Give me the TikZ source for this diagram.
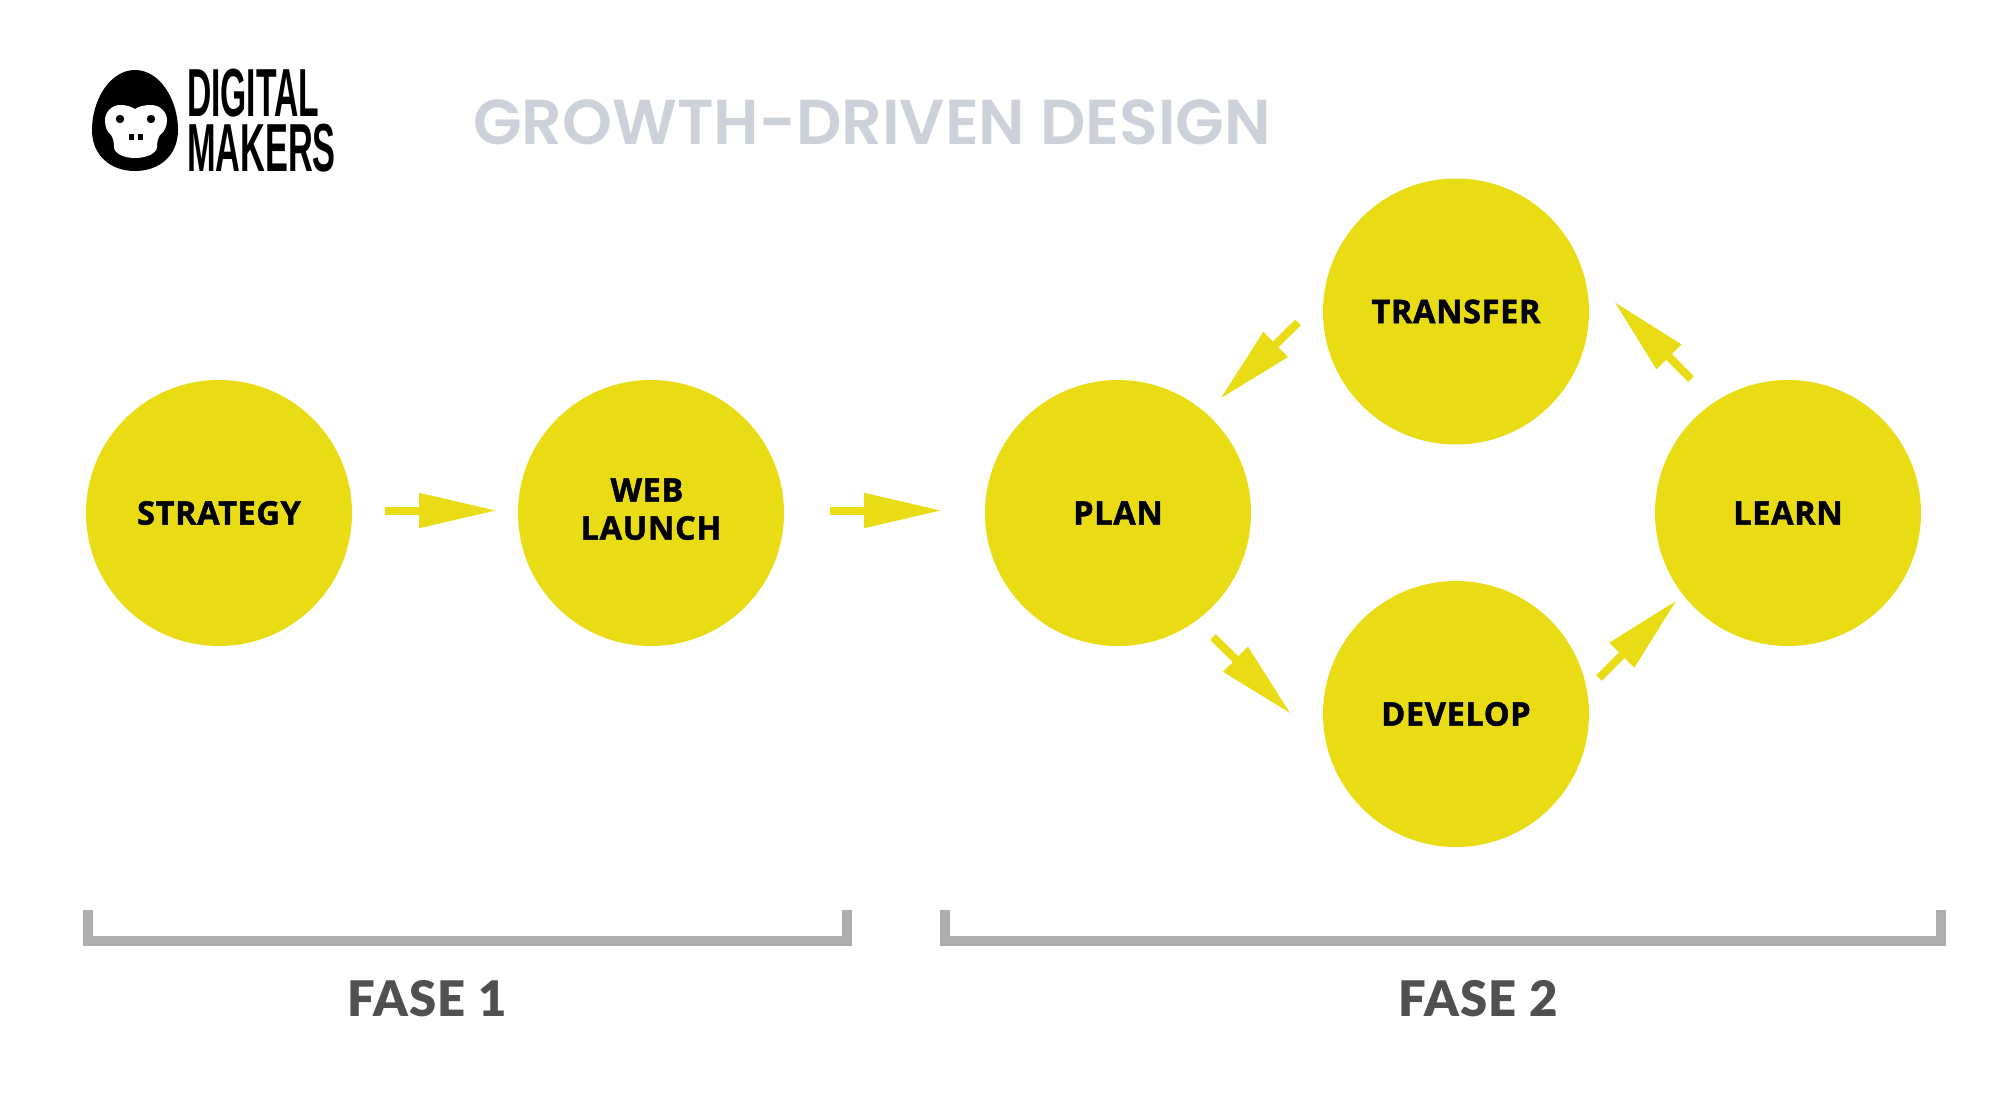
\documentclass[tikz,border=0pt]{standalone}
\usepackage{fontspec}
\setmainfont{Open Sans}
\newfontfamily\labelfont[LetterSpace=2,BoldFeatures={FakeBold=1.5}]{Open Sans}
\newfontfamily\titlefont{Poppins SemiBold}
\newfontfamily\fasefont[LetterSpace=2.5]{Lato Black}
\newfontfamily\logofont{Liberation Sans}
\usetikzlibrary{arrows.meta}
\definecolor{dmyellow}{HTML}{EADC14}
\definecolor{dmgrey}{HTML}{AEAEAE}
\definecolor{dmtitle}{HTML}{CDD2DA}
\definecolor{dmfase}{HTML}{505050}
\tikzset{
  phase/.style={circle,fill=dmyellow,minimum size=266pt,inner sep=0pt,align=center,text=black,
    font=\fontsize{32.5}{38}\selectfont\labelfont\bfseries},
  flow/.style={draw=dmyellow,fill=dmyellow,line width=8pt,-{Triangle[length=78pt,width=33pt]}},
  bracketline/.style={draw=dmgrey,line width=10pt,miter limit=10},
  faselabel/.style={anchor=base,text=dmfase,inner sep=0pt,font=\fontsize{49}{49}\selectfont\fasefont},
  logotext/.style={anchor=base west,inner sep=0pt,text=black,font=\fontsize{68}{68}\selectfont\logofont\bfseries},
}
\begin{document}
\begin{tikzpicture}[x=1pt,y=-1pt]
\useasboundingbox (0,0) rectangle (2000,1116);
\fill[white] (0,0) rectangle (2000,1116);
% logo
\fill[black] (135,70) .. controls (160,70) and (178,100) .. (178,130) .. controls (178,155) and (160,171) .. (135,171) .. controls (110,171) and (92,155) .. (92,130) .. controls (92,100) and (110,70) .. (135,70) -- cycle;
\fill[white] (135,109) .. controls (140,106) and (145,105) .. (151,105) .. controls (160,105) and (167,112) .. (167,120) .. controls (167,127) and (164,132) .. (160,135) .. controls (158,138) and (157,142) .. (157,147) .. controls (157,153) and (147,158) .. (135,158) .. controls (123,158) and (114,153) .. (114,147) .. controls (114,142) and (113,138) .. (111,135) .. controls (107,132) and (105,127) .. (105,120) .. controls (105,112) and (112,105) .. (120,105) .. controls (126,105) and (130,106) .. (135,109) -- cycle;
\fill[black] (120,119) circle (4.2);
\fill[black] (151,119) circle (4.2);
\fill[black] (129,133.5) rectangle (133.5,140);
\fill[black] (138,133.5) rectangle (142.5,140);
\node[logotext,xscale=.495] (logoa) at (187,117) {DIGITAL};
\node[logotext,xscale=.505] (logob) at (187,171) {MAKERS};
% title
\node[anchor=base west,inner sep=0pt,text=dmtitle,font=\fontsize{63.4}{63.4}\selectfont\titlefont] (title) at (473,144) {GROWTH-DRIVEN DESIGN};
% circles
\node[phase] (strategy) at (219,513) {STRATEGY};
\node[phase] (web) at (651,513) {WEB\hspace*{8pt}\\LAUNCH\rule[-8pt]{0pt}{0pt}};
\node[phase] (plan) at (1118,513) {PLAN};
\node[phase] (transfer) at (1456,311.5) {TRANSFER};
\node[phase] (develop) at (1456,714) {DEVELOP};
\node[phase] (learn) at (1788,513) {LEARN};
% arrows
\draw[flow] ([shift={(166,-2.5)}]strategy.center) -- ([shift={(-154,-2.5)}]web.center);
\draw[flow] ([shift={(179,-2.5)}]web.center) -- ([shift={(-176,-2.5)}]plan.center);
\draw[flow] ([shift={(-158,11)}]transfer.center) -- ([shift={(102,-114)}]plan.center);
\draw[flow] ([shift={(95,124)}]plan.center) -- ([shift={(-165,0)}]develop.center);
\draw[flow] ([shift={(143,-36)}]develop.center) -- ([shift={(-111,87)}]learn.center);
\draw[flow] ([shift={(-97,-134)}]learn.center) -- ([shift={(158,-10)}]transfer.center);
% brackets
\draw[bracketline] (88,910) -- (88,941) -- (847,941) -- (847,910);
\draw[bracketline] (945,910) -- (945,941) -- (1941,941) -- (1941,910);
\node[faselabel] (f1) at (427,1016) {FASE 1};
\node[faselabel] (f2) at (1478,1016) {FASE 2};
\end{tikzpicture}
\end{document}
